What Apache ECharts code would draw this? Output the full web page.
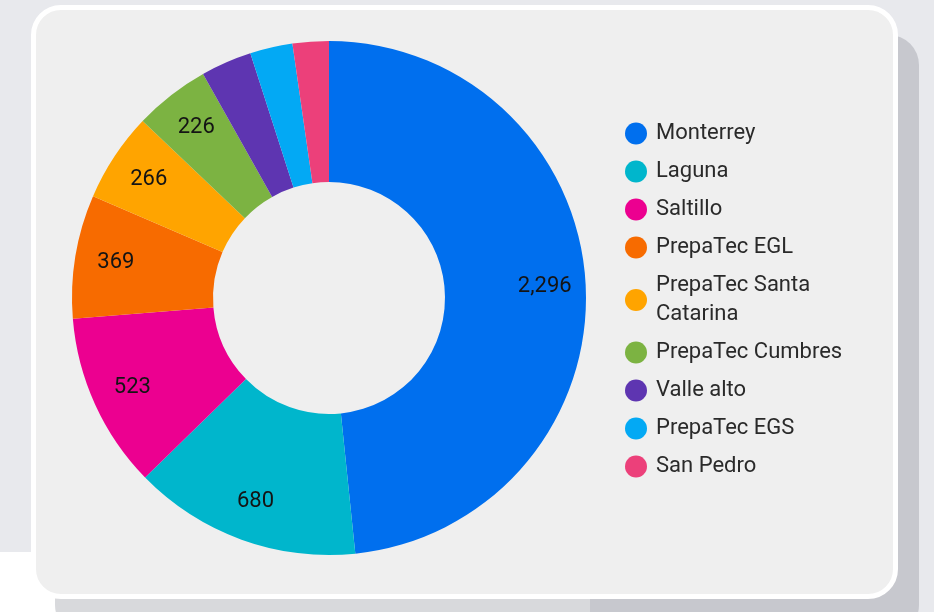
<!DOCTYPE html>
<html lang="es">
<head>
<meta charset="utf-8" />
<title>Campus</title>
<script src="https://cdn.jsdelivr.net/npm/echarts@6/dist/echarts.min.js"></script>
<style>
    body { margin: 0; width: 934px; height: 612px; background: #e8e9ed; overflow: hidden; position: relative; }
    #fondo { position: absolute; left: 0; top: 552px; width: 590px; height: 60px; background: #ffffff; }
    #sombra { position: absolute; left: 55px; top: 35px; width: 864px; height: 600px; border-radius: 30px; background: rgba(105,108,118,0.26); }
    #tarjeta { position: absolute; left: 31px; top: 5px; width: 867px; height: 594px; box-sizing: border-box;
        border: 5px solid #ffffff; border-radius: 30px; background: #efefef; }
    #main { position: absolute; left: 0; top: 0; width: 934px; height: 612px; }
</style>
</head>
<body>
<div id="fondo"></div>
<div id="sombra"></div>
<div id="tarjeta"></div>
<div id="main"></div>

<script>
    var campus = ['Monterrey', 'Laguna', 'Saltillo', 'PrepaTec EGL', 'PrepaTec Santa Catarina',
        'PrepaTec Cumbres', 'Valle alto', 'PrepaTec EGS', 'San Pedro'];
    var alumnos = [2296, 680, 523, 369, 266, 226, 152, 127, 108];
    var colores = ['#006fee', '#00b6cc', '#ec0090', '#f76b00', '#ffa400', '#7cb342', '#5e35b1', '#03a9f4', '#ec407a'];

    var datos = [];
    for (var i = 0; i < campus.length; i++) {
        datos.push({name: campus[i], value: alumnos[i]});
    }

    var myChart = echarts.init(document.getElementById('main'), null, {renderer: 'canvas'});

    var option = {
        backgroundColor: 'transparent',
        color: colores,
        animation: false,
        legend: {
            orient: 'vertical',
            left: 625,
            top: 119,
            padding: 0,
            itemGap: 9,
            itemWidth: 22,
            itemHeight: 22,
            icon: 'circle',
            data: campus,
            textStyle: {
                fontFamily: 'Roboto',
                fontSize: 22,
                color: '#2a2a2a',
                lineHeight: 29,
                width: 210,
                overflow: 'break',
                padding: [0, 0, 0, 4]
            }
        },
        series: [
            {
                name: 'Campus',
                type: 'pie',
                center: [329, 298],
                radius: [116, 257],
                startAngle: 90,
                label: {show: false},
                labelLine: {show: false},
                emphasis: {disabled: true},
                data: datos
            },
            {
                // serie invisible solo para las etiquetas, mas hacia afuera
                name: 'Etiquetas',
                type: 'pie',
                center: [329, 298],
                radius: [169, 257],
                startAngle: 90,
                silent: true,
                avoidLabelOverlap: false,
                itemStyle: {color: 'rgba(0,0,0,0)'},
                emphasis: {disabled: true},
                label: {
                    show: true,
                    position: 'inside',
                    rotate: 0,
                    fontFamily: 'Roboto',
                    fontSize: 22,
                    color: '#141414',
                    formatter: function (p) {
                        return p.value >= 200 ? p.value.toLocaleString('en-US') : '';
                    }
                },
                labelLine: {show: false},
                data: datos
            }
        ]
    };

    myChart.setOption(option);
</script>
</body>
</html>
